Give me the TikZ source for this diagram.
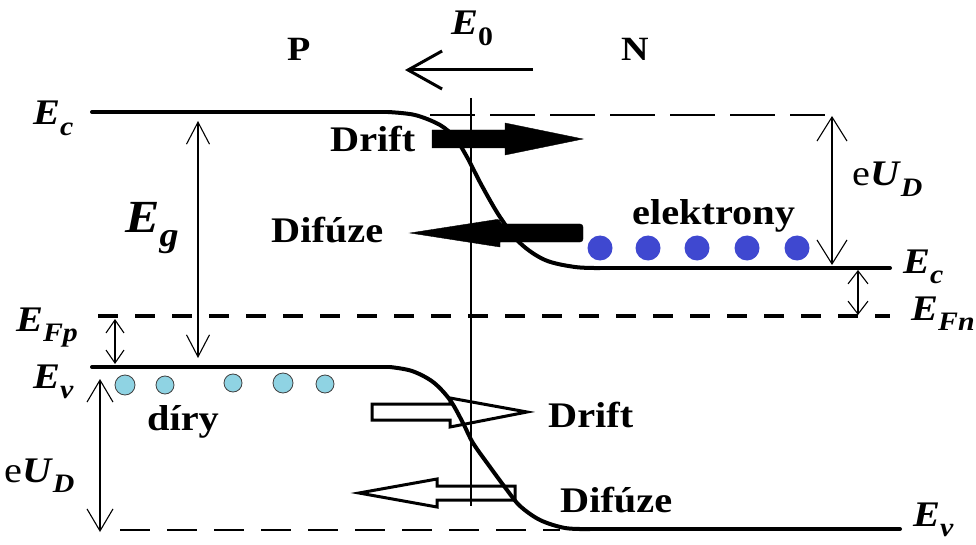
\documentclass[tikz,border=0pt]{standalone}
\usepackage{fontspec}
\setmainfont{Liberation Serif}[FakeStretch=1.12]
\usetikzlibrary{arrows.meta}
\definecolor{holecol}{HTML}{8FD3E3}
\definecolor{ecol}{HTML}{3F48D0}
\newcommand\En[2]{\textbf{\textit{#1}}\raisebox{-0.3em}{\scalebox{0.74}{\textbf{\textit{#2}}}}}
\newcommand\Ez{\textbf{\textit{E}}\raisebox{-0.28em}{\scalebox{0.74}{\textbf{0}}}}
\newcommand\eUD{e\En{U}{D}}
\tikzset{
  band/.style={line width=4pt, line cap=round},
  dimarr/.style 2 args={line width=1.1pt,
     {Straight Barb[length=#1,width=#2,line width=1.1pt]}-{Straight Barb[length=#1,width=#2,line width=1.1pt]}},
  lab/.style={inner sep=0pt, anchor=base west, font=\bfseries\fontsize{36}{40}\selectfont},
  elab/.style={inner sep=0pt, anchor=base west, font=\fontsize{36}{40}\selectfont},
  hole/.style={circle, draw=black!75, fill=holecol, line width=0.8pt, minimum size=20pt, inner sep=0pt},
  electron/.style={circle, fill=ecol, minimum size=25pt, inner sep=0pt},
  blackarrow/.style={fill=black},
  hollowarrow/.style={draw=black, fill=white, line width=3pt, line join=miter},
}
\begin{document}
\begin{tikzpicture}[x=1pt,y=-1pt]
\useasboundingbox (0,0) rectangle (976,545);
% labels
\node[elab] (lp) at (287,61) {\fontsize{34}{38}\selectfont\textbf{P}};
\node[elab] (ln) at (621,61) {\fontsize{34}{38}\selectfont\textbf{N}};
\node[elab] (le0) at (451,35) {\Ez};
\node[elab] (lecl) at (33,125) {\En{E}{c}};
\node[elab] (lefp) at (16,331) {\En{E}{Fp}};
\node[elab] (levl) at (33,388) {\En{E}{v}};
\node[elab] (leg) at (125,233) {\fontsize{46}{50}\selectfont\En{E}{g}};
\node[elab] (leudl) at (4,482) {\eUD};
\node[elab] (lecr) at (903,273) {\En{E}{c}};
\node[elab] (lefn) at (911,320) {\En{E}{Fn}};
\node[elab] (levr) at (913,526) {\En{E}{v}};
\node[elab] (leudr) at (852,186) {\eUD};
\node[lab] (tdrift1) at (330,152) {Drift};
\node[lab] (tdif1) at (271,242) {Difúze};
\node[lab] (tel) at (632,225) {elektrony};
\node[lab] (tdiry) at (147,430) {díry};
\node[lab] (tdrift2) at (548,427) {Drift};
\node[lab] (tdif2) at (560,512) {Difúze};
% dashed lines
\draw[line width=1.2pt, dash pattern=on 45pt off 15pt] (430,115) -- (825,115);
\draw[line width=1.2pt, dash pattern=on 30pt off 17pt] (120,530) -- (560,530);
\draw[line width=4pt, dash pattern=on 20pt off 17pt] (98,316) -- (890,316);
% E0 arrow
\coordinate (e0a) at (533,70);
\coordinate (e0b) at (405,70);
\draw[line width=3pt, -{Straight Barb[length=34pt,width=38pt,line width=3pt]}] (e0a) -- (e0b);
% dimension arrows
\coordinate (ega) at (198,121); \coordinate (egb) at (198,358);
\draw[dimarr={22pt}{23pt}] (ega) -- (egb);
\coordinate (fpa) at (115,319); \coordinate (fpb) at (115,364);
\draw[dimarr={13pt}{18pt}] (fpa) -- (fpb);
\coordinate (ula) at (100,379); \coordinate (ulb) at (100,532);
\draw[dimarr={22pt}{26pt}] (ula) -- (ulb);
\coordinate (ura) at (832,116); \coordinate (urb) at (832,265);
\draw[dimarr={24pt}{30pt}] (ura) -- (urb);
\coordinate (fna) at (858,270); \coordinate (fnb) at (858,315);
\draw[dimarr={13pt}{20pt}] (fna) -- (fnb);
% black arrows
\draw[blackarrow] (432,130) -- (505,130) -- (505,123) -- (583,139) -- (505,155) -- (505,148) -- (432,148) -- cycle;
\draw[blackarrow, rounded corners=3pt] (583,224) -- (500,224) -- (500,219) [sharp corners] -- (410,233) -- (500,247) -- (500,242) [rounded corners=3pt] -- (583,242) -- cycle;
% hollow arrows
\draw[hollowarrow] (372,404) -- (450,404) -- (450,398) -- (527,412) -- (450,427) -- (450,420) -- (372,420) -- cycle;
\draw[hollowarrow] (515,486) -- (437,486) -- (437,479) -- (359,493) -- (437,507) -- (437,500) -- (515,500) -- cycle;
% bands
\draw[band] (92,112) -- (388,112);
\draw[band] plot[smooth, tension=0.55] coordinates {(388,112) (415,115) (440,125) (455,138) (467,157) (482,186) (500,217) (520,243) (545,260) (575,267) (600,268)};
\draw[band] (600,268) -- (890,268);
\draw[band] (92,367) -- (390,367);
\draw[band] plot[smooth, tension=0.55] coordinates {(390,367) (412,371) (433,382) (450,400) (463,423) (473,443) (490,467) (507,490) (520,506) (540,520) (565,528) (590,529)};
\draw[band] (590,529) -- (900,529);
% vertical line
\coordinate (vt) at (471,98); \coordinate (vb) at (471,506);
\draw[line width=1.2pt] (vt) -- (vb);
% carriers
\foreach \x [count=\i] in {600,648,697,747,797} \node[electron] (el\i) at (\x,248) {};
\node[hole] (h1) at (125,385) {};
\node[hole, minimum size=18pt] (h2) at (165,385) {};
\node[hole, minimum size=18pt] (h3) at (233,383) {};
\node[hole] (h4) at (283,383) {};
\node[hole, minimum size=18pt] (h5) at (325,384) {};
\end{tikzpicture}
\end{document}
